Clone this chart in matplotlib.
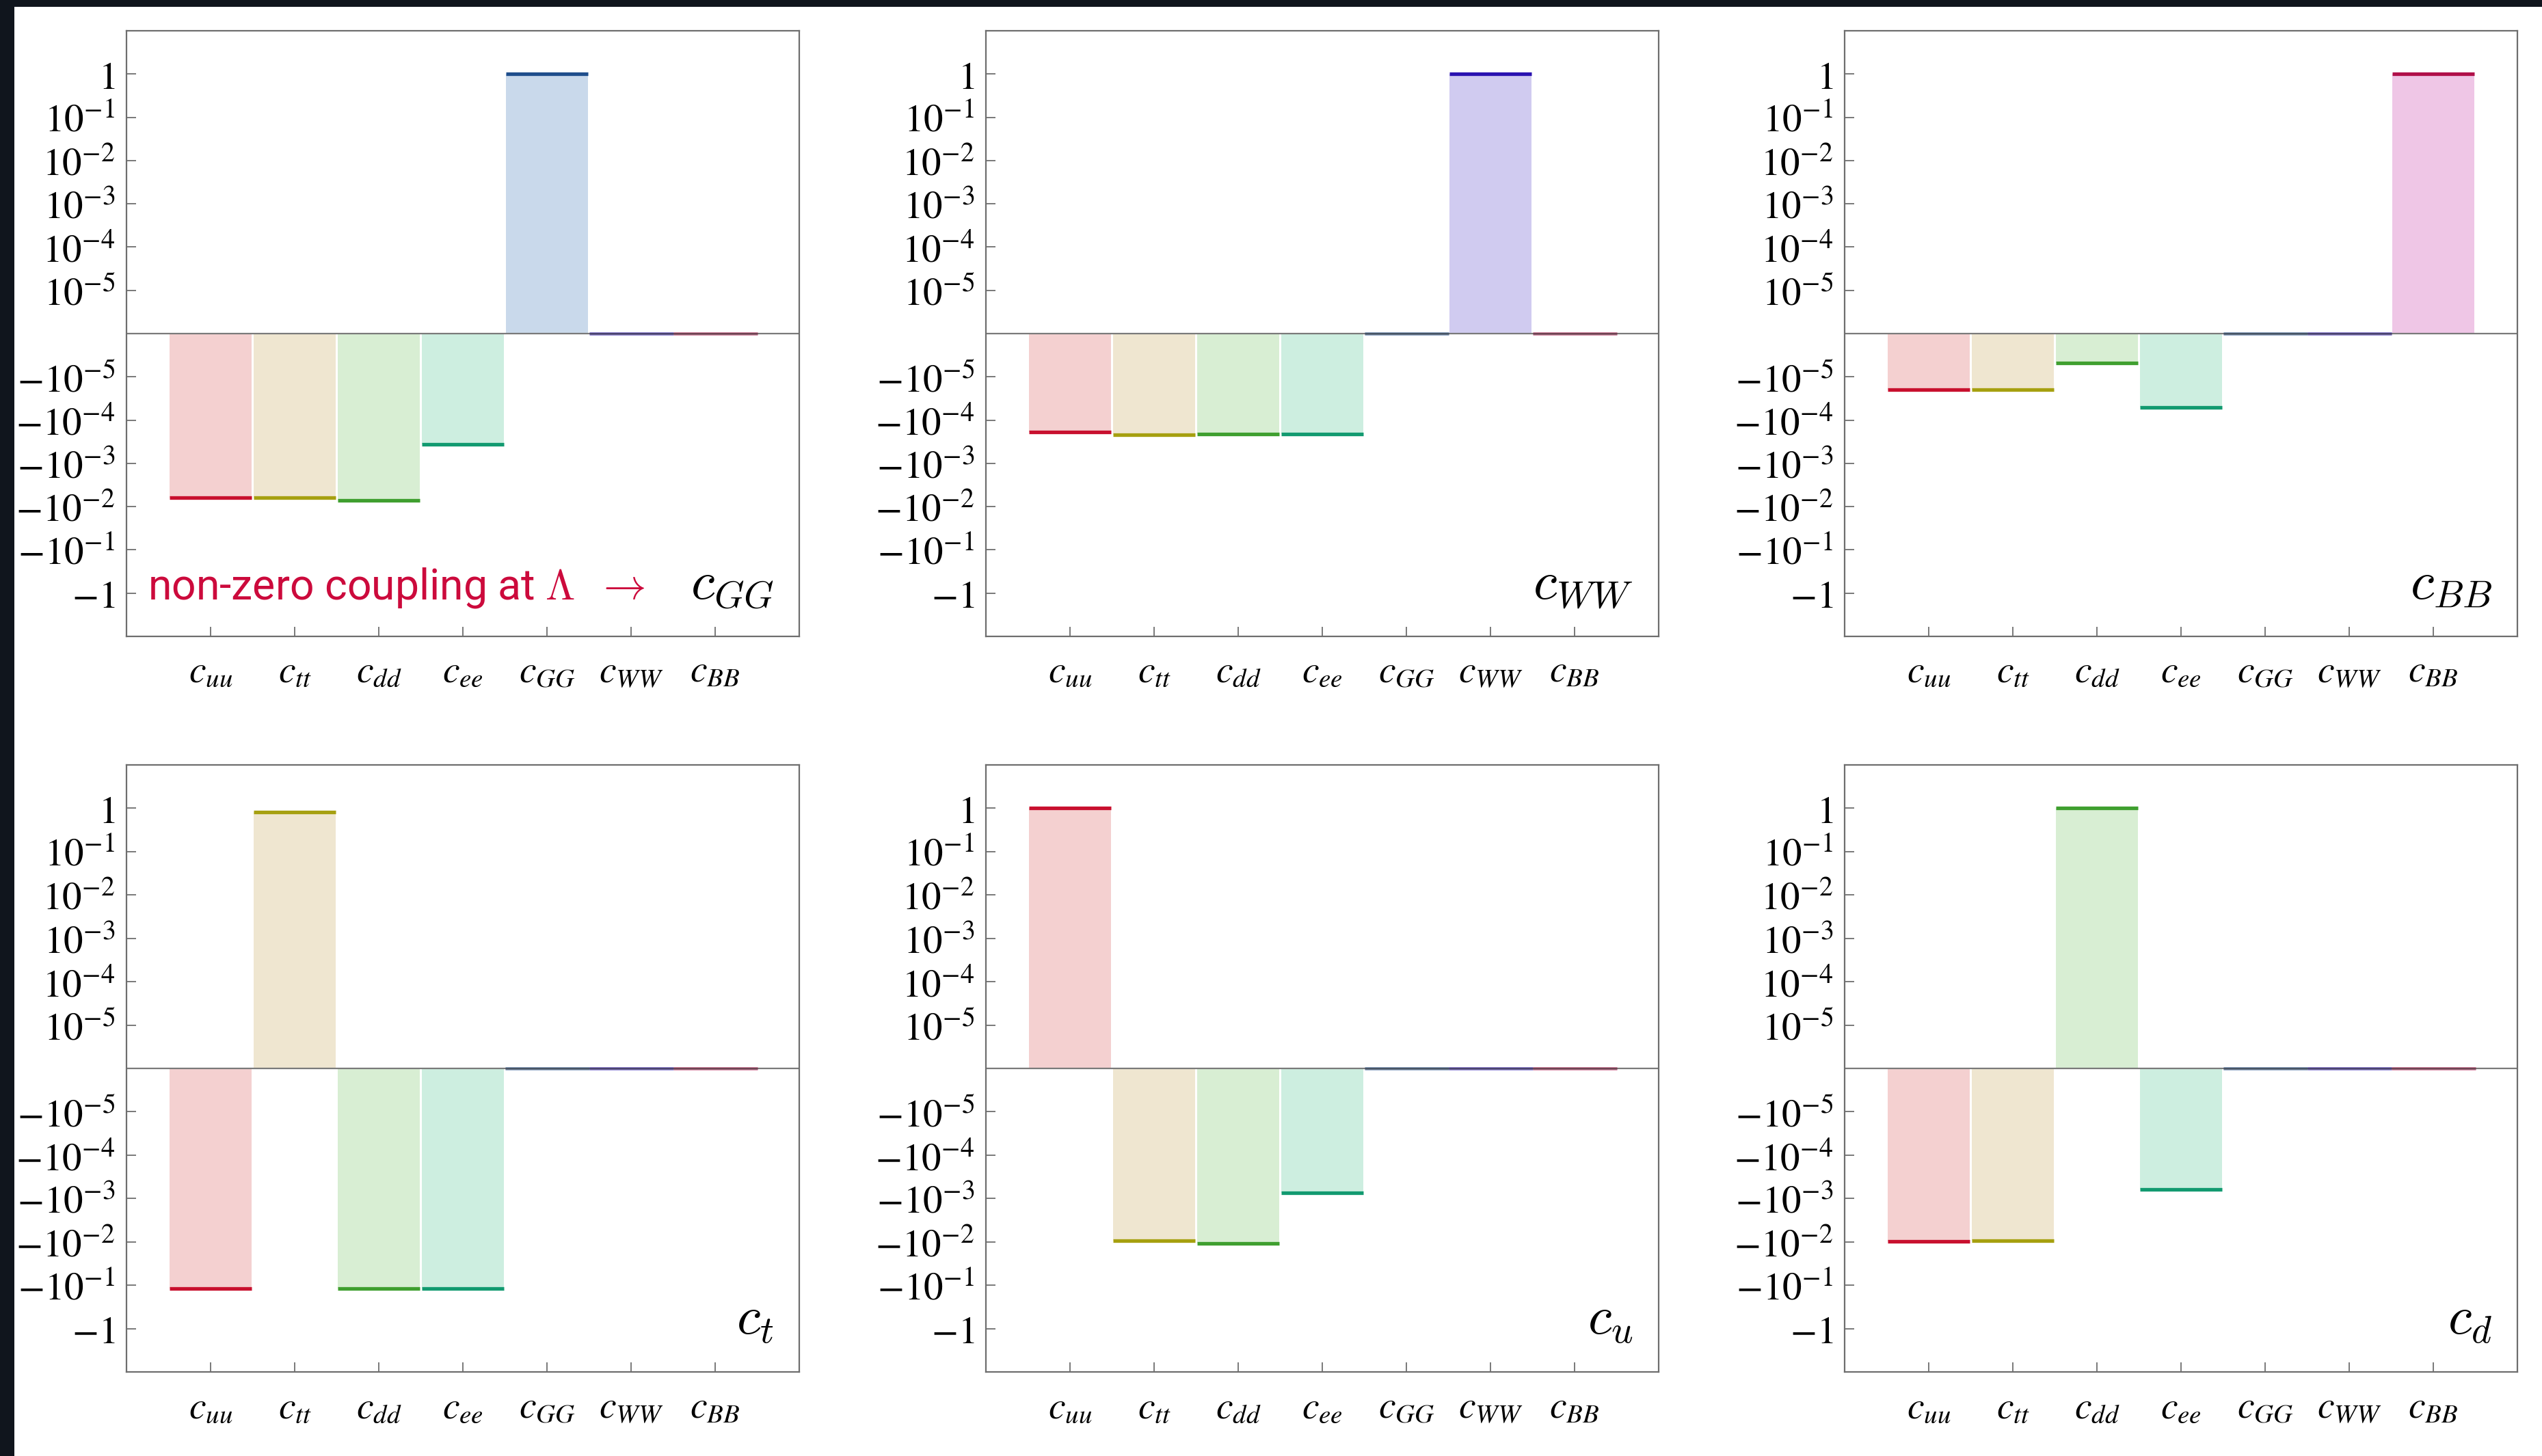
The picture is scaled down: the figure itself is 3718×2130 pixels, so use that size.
import numpy as np
import matplotlib
matplotlib.use("Agg")
import matplotlib.pyplot as plt
from matplotlib.patches import Rectangle

plt.rcParams['mathtext.fontset'] = 'stix'
plt.rcParams['font.family'] = ['DejaVu Sans']

# ---------------- data ----------------
categories = [r'$c_{uu}$', r'$c_{tt}$', r'$c_{dd}$', r'$c_{ee}$',
              r'$c_{GG}$', r'$c_{WW}$', r'$c_{BB}$']
panel_labels = [r'$c_{GG}$', r'$c_{WW}$', r'$c_{BB}$', r'$c_t$', r'$c_u$', r'$c_d$']

vals_cGG = [-6.3e-3, -6.3e-3, -7.2e-3, -3.6e-4, 1.0, 0.0, 0.0]
vals_cWW = [-1.9e-4, -2.2e-4, -2.1e-4, -2.1e-4, 0.0, 1.0, 0.0]
vals_cBB = [-2.0e-5, -2.0e-5, -6.8e-6, -5.1e-5, 0.0, 0.0, 1.0]
vals_ct = [-0.12, 0.83, -0.12, -0.12, 0.0, 0.0, 0.0]
vals_cu = [1.0, -9.5e-3, -1.1e-2, -7.4e-4, 0.0, 0.0, 0.0]
vals_cd = [-9.8e-3, -9.5e-3, 1.0, -6.2e-4, 0.0, 0.0, 0.0]
panel_values = [vals_cGG, vals_cWW, vals_cBB, vals_ct, vals_cu, vals_cd]

ytick_values = [1, 1e-1, 1e-2, 1e-3, 1e-4, 1e-5,
                -1e-5, -1e-4, -1e-3, -1e-2, -1e-1, -1]
ytick_labels = [r'$1$', r'$10^{-1}$', r'$10^{-2}$', r'$10^{-3}$', r'$10^{-4}$', r'$10^{-5}$',
                r'$-10^{-5}$', r'$-10^{-4}$', r'$-10^{-3}$', r'$-10^{-2}$', r'$-10^{-1}$', r'$-1$']

annotation = r'non-zero coupling at $\Lambda\;\;\rightarrow$'

# ---------------- style ----------------
line_colors = ['#c8102e', '#a6a010', '#3f9f2f', '#129a70', '#1f4e8c', '#2a12b0', '#b0104a']
fill_colors = ['#f4d0d0', '#efe6d0', '#d8eed3', '#cdeee0', '#c9d9eb', '#d0cbf0', '#efc6e6']
frame_color = '#6e6e6e'

W, H = 3718, 2130
fig = plt.figure(figsize=(W / 100, H / 100), dpi=100)
fig.patch.set_facecolor('white')

lefts = [185, 1442, 2698]
rows = [(45, 931), (1119, 2007)]
aw = 984

x = np.arange(1, len(categories) + 1)

axes = []
for r, (top, bot) in enumerate(rows):
    for c, left in enumerate(lefts):
        ax = fig.add_axes([left / W, 1 - bot / H, aw / W, (bot - top) / H])
        axes.append(ax)

for i, ax in enumerate(axes):
    vals = np.array(panel_values[i])
    ax.set_yscale('symlog', linthresh=1e-5, linscale=0.9)
    ax.bar(x, vals, width=0.975, color=fill_colors, edgecolor='none', zorder=1)
    ax.axhline(0, color='#7a7a7a', lw=1.6, zorder=2)
    for xi, v, lc in zip(x, vals, line_colors):
        if v == 0:
            ax.hlines(v, xi - 0.5, xi + 0.5, color=lc, lw=3.5, alpha=0.5, zorder=3)
            ax.hlines(v, xi - 0.5, xi + 0.5, color='#444444', lw=2.2, alpha=0.45, zorder=3)
        else:
            ax.hlines(v, xi - 0.49, xi + 0.49, color=lc, lw=3.8, zorder=3)
    ax.set_xlim(0, 8)
    ax.set_ylim(-10, 10)
    ax.set_yticks(ytick_values)
    ax.set_yticklabels(ytick_labels)
    ax.yaxis.set_minor_locator(matplotlib.ticker.NullLocator())
    ax.set_xticks(x)
    ax.set_xticklabels(categories)
    ax.tick_params(axis='y', direction='in', length=10, width=1.3, color=frame_color,
                   labelsize=41, pad=12, right=False)
    ax.tick_params(axis='x', direction='in', length=10, width=1.3, color=frame_color,
                   labelsize=40, pad=18, top=False)
    for sp in ax.spines.values():
        sp.set_color(frame_color)
        sp.set_linewidth(1.6)
    ax.text(0.962, 0.062, panel_labels[i], transform=ax.transAxes, ha='right',
            va='baseline', fontsize=57, math_fontfamily='cm', color='black', zorder=5)

axes[0].text(0.032, 0.062, annotation, transform=axes[0].transAxes, ha='left',
             va='baseline', fontsize=45, family=['Roboto', 'DejaVu Sans'],
             math_fontfamily='cm', color='#cc0a3c', zorder=5)

# dark frame edges of the slide
fig.patches.append(Rectangle((0, 1 - 10 / H), 1, 10 / H, transform=fig.transFigure,
                             facecolor='#10151d', edgecolor='none', zorder=-1))
fig.patches.append(Rectangle((0, 0), 21 / W, 1, transform=fig.transFigure,
                             facecolor='#10151d', edgecolor='none', zorder=-1))

fig.savefig('out.png', dpi=100, facecolor='white')
